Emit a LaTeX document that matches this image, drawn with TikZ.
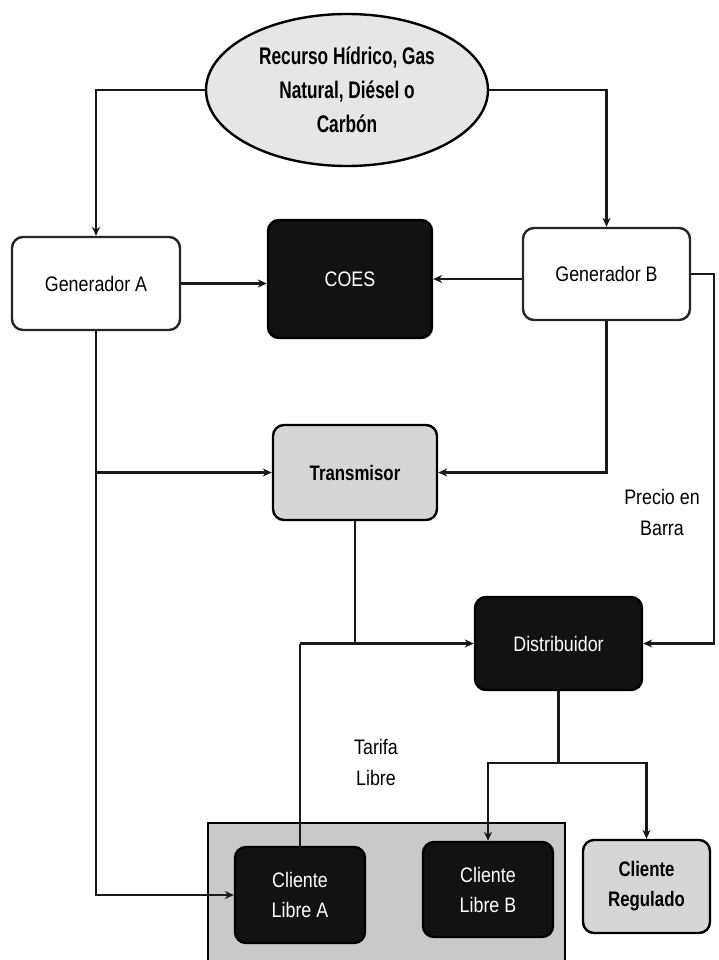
\documentclass[tikz,border=0pt]{standalone}
\usepackage{fontspec}
\setmainfont{Liberation Sans}[FakeStretch=0.85]
\newfontfamily\ellfont{Liberation Sans}[FakeStretch=0.72]
\newfontfamily\boldnarrow{Liberation Sans}[FakeStretch=0.8]
\usetikzlibrary{shapes.geometric,arrows.meta}
\definecolor{boxblack}{HTML}{121212}
\definecolor{lightgr}{HTML}{E6E6E6}
\definecolor{midgr}{HTML}{D6D6D6}
\definecolor{contgr}{HTML}{C9C9C9}
\tikzset{
  basebox/.style={rectangle, rounded corners=11pt, line width=2.4pt, inner sep=0pt, align=center,
    font=\fontsize{21}{30}\selectfont},
  whitebox/.style={basebox, draw=black!85, fill=white},
  blackbox/.style={basebox, draw=black, fill=boxblack, text=white},
  graybox/.style={basebox, draw=black, fill=midgr, font=\boldnarrow\bfseries\fontsize{21}{30}\selectfont},
  conn/.style={line width=2.1pt, draw=black!90},
  arr/.style={conn, -{Stealth[length=9pt,width=8pt]}},
  lbl/.style={align=center, font=\fontsize{21}{31}\selectfont, inner sep=0pt}
}
\begin{document}
\begin{tikzpicture}[x=1pt,y=-1pt]
\useasboundingbox (0,0) rectangle (718,960);
\clip (0,0) rectangle (718,960);
\fill[white] (0,0) rectangle (718,960);

% container of free clients
\draw[line width=2.4pt, fill=contgr] (208,823) rectangle (565,985);

% nodes
\node[ellipse, draw=black, line width=2.4pt, fill=lightgr, minimum width=282pt, minimum height=152pt,
      inner sep=0pt, align=center, font=\ellfont\bfseries\fontsize{24}{34}\selectfont]
      (ell) at (347,90) {Recurso Hídrico, Gas\\Natural, Diésel o\\Carbón};
\node[whitebox, minimum width=168pt, minimum height=93pt] (genA) at (96,283.5) {Generador A};
\node[blackbox, minimum width=164pt, minimum height=118pt] (coes) at (350,279) {COES};
\node[whitebox, minimum width=167pt, minimum height=92pt] (genB) at (606.5,274) {Generador B};
\node[graybox, minimum width=164pt, minimum height=95pt] (trans) at (355,472.5) {Transmisor};
\node[blackbox, minimum width=167pt, minimum height=93pt] (dist) at (558.5,643.5) {Distribuidor};
\node[blackbox, minimum width=130pt, minimum height=96pt] (libA) at (300,895) {Cliente\\Libre A};
\node[blackbox, minimum width=130pt, minimum height=95pt] (libB) at (488,889.5) {Cliente\\Libre B};
\node[graybox, minimum width=127pt, minimum height=93pt] (reg) at (646.5,886.5) {Cliente\\Regulado};

% labels
\node[lbl] (tarifa) at (376,762) {Tarifa\\Libre};
\node[lbl] (precio) at (662,512) {Precio en\\Barra};

% connectors
\draw[arr] (ell.west) -| (genA.north);
\draw[arr] (ell.east) -| (genB.north);
\draw[arr] (genA.east) -- (genA.east -| coes.west);
\draw[arr] (genB.west |- coes.east) -- (coes.east);
\draw[arr] (genA.south) |- (libA.west);
\draw[arr] (genA.south |- trans.west) -- (trans.west);
\draw[arr] (genB.south) |- (trans.east);
\coordinate (rt) at (714,0);
\draw[arr] (genB.east) -- (genB.east -| rt) |- (dist.east);
\draw[conn] (trans.south) -- (trans.south |- dist.west);
\draw[arr] (libA.north |- dist.west) -- (dist.west);
\draw[conn] (libA.north) -- (libA.north |- dist.west);
\coordinate (dj) at (558.5,763);
\draw[conn] (dist.south) -- (dj);
\draw[arr] (dj) -| (libB.north);
\draw[arr] (dj) -| (reg.north);
\end{tikzpicture}
\end{document}
